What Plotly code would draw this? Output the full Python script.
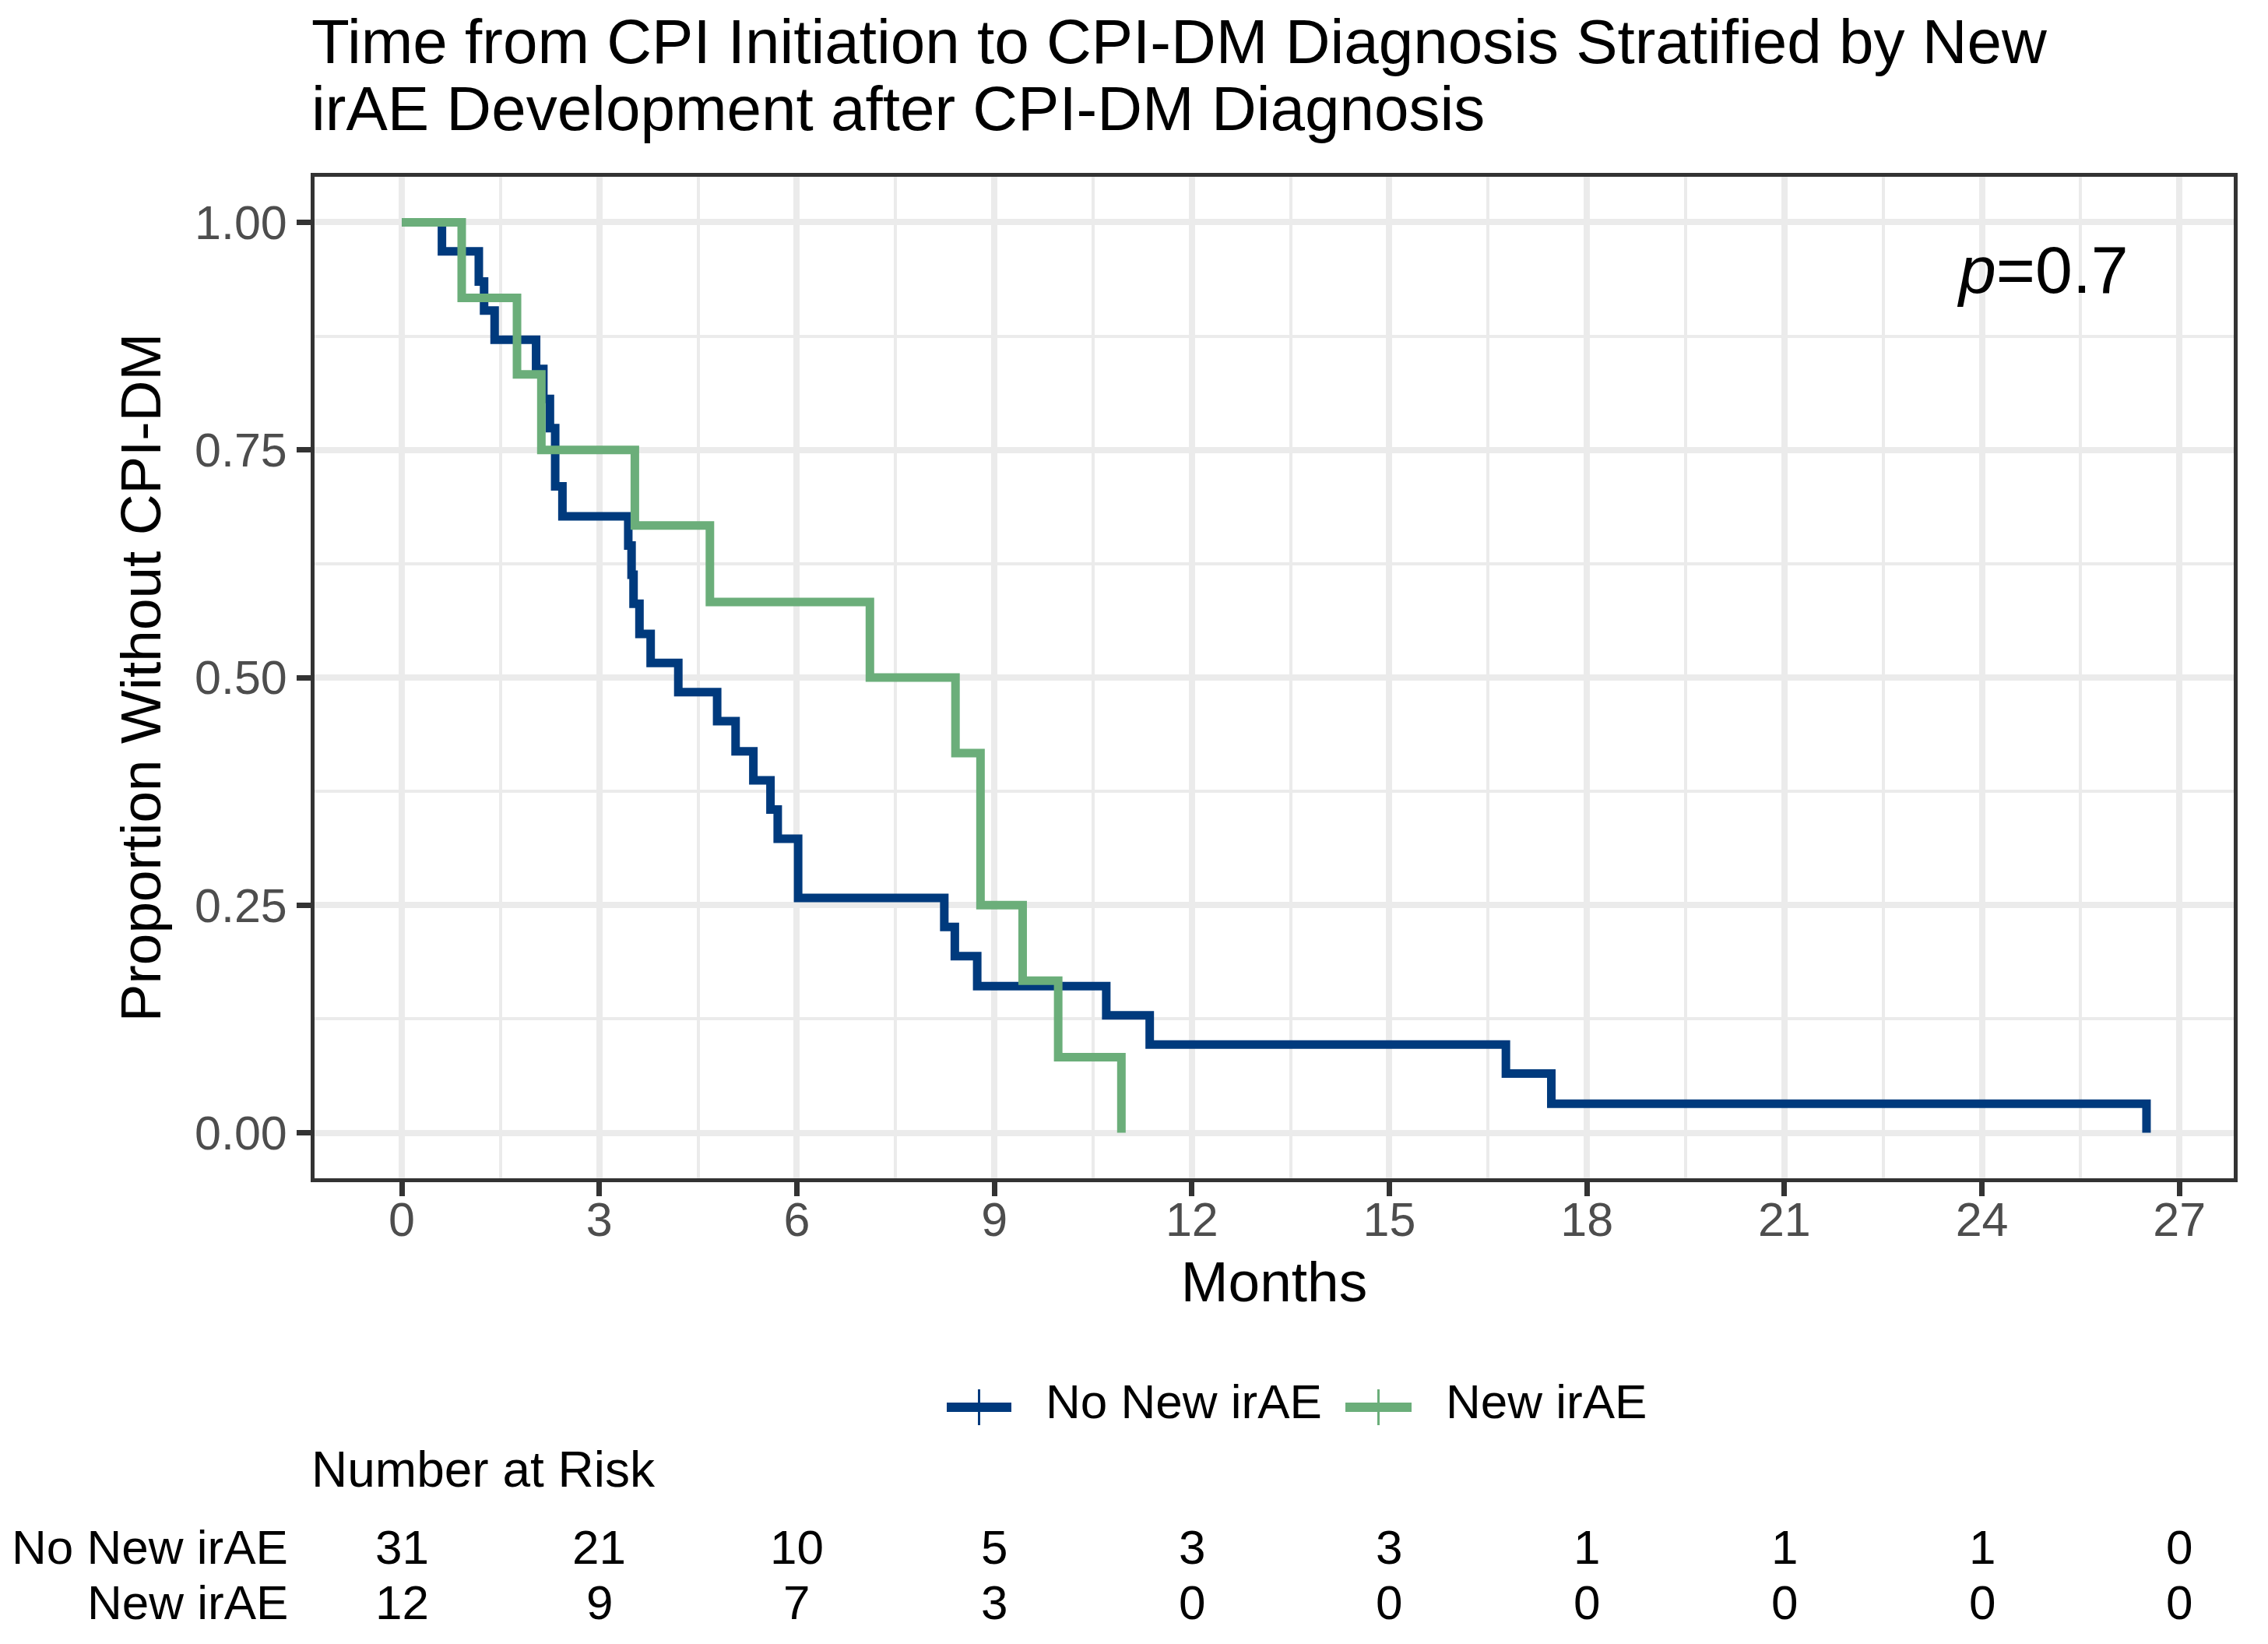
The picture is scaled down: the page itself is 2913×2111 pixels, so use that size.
import plotly.graph_objects as go

# ---- data ----
group_names = ["No New irAE", "New irAE"]

no_new_times = [0, 0.61, 1.17, 1.25, 1.41, 2.04, 2.15, 2.25, 2.33, 2.44,
                3.44, 3.49, 3.52, 3.61, 3.78, 4.20, 4.79, 5.07, 5.34, 5.60,
                5.71, 6.02, 8.24, 8.40, 8.74, 10.70, 11.36, 16.77, 17.46, 26.50]
no_new_surv = [1.000, 0.968, 0.935, 0.903, 0.871, 0.839, 0.806, 0.774, 0.710, 0.677,
               0.645, 0.613, 0.581, 0.548, 0.516, 0.484, 0.452, 0.419, 0.387, 0.355,
               0.323, 0.258, 0.226, 0.194, 0.161, 0.129, 0.097, 0.065, 0.032, 0.000]

new_times = [0, 0.91, 1.75, 2.12, 3.54, 4.68, 7.11, 8.41, 8.79, 9.43, 9.97, 10.93]
new_surv = [1.000, 0.917, 0.833, 0.750, 0.667, 0.583, 0.500, 0.417, 0.250, 0.167, 0.083, 0.000]

risk_times = [0, 3, 6, 9, 12, 15, 18, 21, 24, 27]
risk_no_new = [31, 21, 10, 5, 3, 3, 1, 1, 1, 0]
risk_new = [12, 9, 7, 3, 0, 0, 0, 0, 0, 0]

x_ticks = [0, 3, 6, 9, 12, 15, 18, 21, 24, 27]
y_ticks = [0.00, 0.25, 0.50, 0.75, 1.00]
p_text = "<i>p</i>=0.7"

title_lines = ["Time from CPI Initiation to CPI-DM Diagnosis Stratified by New",
               "irAE Development after CPI-DM Diagnosis"]

# ---- style ----
BLUE = "#003A7D"
GREEN = "#6BAE7A"
COLORS = [BLUE, GREEN]
FONT = "Liberation Sans"
W, H = 2913, 2111
ML, MR, MT, MB = 396, 52, 219, 606
PW = W - ML - MR
PH = H - MT - MB
DY = 8  # annotation box centre sits slightly below cap centre


def px_x(X):
    return (X - ML) / PW


def px_y(Y):
    return (H - MB - Y) / PH


fig = go.Figure()

for name, t, s, col in [(group_names[0], no_new_times, no_new_surv, BLUE),
                        (group_names[1], new_times, new_surv, GREEN)]:
    fig.add_trace(go.Scatter(x=t, y=s, mode="lines", line=dict(color=col, width=11, shape="hv"),
                             showlegend=False, name=name))

axis_common = dict(showline=True, linecolor="#333333", linewidth=5, mirror=True,
                   ticks="outside", ticklen=18, tickwidth=7, tickcolor="#333333",
                   gridcolor="#EBEBEB", gridwidth=8, zeroline=False,
                   tickfont=dict(family=FONT, size=61, color="#4D4D4D"))

fig.update_xaxes(range=[-1.325, 27.825], tickvals=x_ticks, ticklabelstandoff=-22,
                 minor=dict(dtick=1.5, tick0=0, showgrid=True, gridcolor="#EBEBEB", gridwidth=4, ticks=""),
                 title=dict(text="Months", font=dict(family=FONT, size=73, color="black"), standoff=22),
                 **axis_common)
fig.update_yaxes(range=[-0.05, 1.05], tickvals=y_ticks, tickformat=".2f",
                 minor=dict(dtick=0.125, tick0=0, showgrid=True, gridcolor="#EBEBEB", gridwidth=4, ticks=""),
                 title=dict(text="Proportion Without CPI-DM", font=dict(family=FONT, size=73, color="black"), standoff=21),
                 **axis_common)

annotations = []
shapes = []
# title lines
for line, yc in zip(title_lines, [53.5, 139.5]):
    annotations.append(dict(text=line, xref="paper", yref="paper", x=px_x(390), xanchor="left",
                            y=px_y(yc - DY), yanchor="middle", showarrow=False,
                            font=dict(family=FONT, size=80, color="black")))
# p-value
annotations.append(dict(text=p_text, xref="x", yref="y", x=26.25, y=0.948, xanchor="right", yanchor="middle",
                        showarrow=False, font=dict(family=FONT, size=86, color="black")))

# legend (drawn manually to match ggplot's key layout)
legend_items = [(group_names[0], BLUE, 1208, 1291, 1333), (group_names[1], GREEN, 1720, 1805, 1847)]
LEG_Y = 1799
for name, col, x0, x1, xt in legend_items:
    shapes.append(dict(type="line", xref="paper", yref="paper", x0=px_x(x0), x1=px_x(x1),
                       y0=px_y(LEG_Y), y1=px_y(LEG_Y), line=dict(color=col, width=12)))
    xm = (x0 + x1) / 2
    shapes.append(dict(type="line", xref="paper", yref="paper", x0=px_x(xm), x1=px_x(xm),
                       y0=px_y(LEG_Y - 23), y1=px_y(LEG_Y + 23), line=dict(color=col, width=3)))
    annotations.append(dict(text=name, xref="paper", yref="paper", x=px_x(xt), xanchor="left",
                            y=px_y(LEG_Y - DY), yanchor="middle", showarrow=False,
                            font=dict(family=FONT, size=62, color="black")))

# number at risk header
annotations.append(dict(text="Number at Risk", xref="paper", yref="paper", x=px_x(390), xanchor="left",
                        y=px_y(1887 - DY), yanchor="middle", showarrow=False,
                        font=dict(family=FONT, size=64, color="black")))
# risk table
for label, counts, yc in [(group_names[0], risk_no_new, 1987), (group_names[1], risk_new, 2057)]:
    yp = px_y(yc - DY)
    annotations.append(dict(text=label, xref="paper", yref="paper", x=px_x(364),
                            xanchor="right", y=yp, yanchor="middle", showarrow=False,
                            font=dict(family=FONT, size=62, color="black")))
    for t, c in zip(risk_times, counts):
        annotations.append(dict(text=str(c), xref="x", yref="paper", x=t, xanchor="center",
                                y=yp, yanchor="middle", showarrow=False,
                                font=dict(family=FONT, size=62, color="black")))

fig.update_layout(
    width=W, height=H,
    margin=dict(l=ML, r=MR, t=MT, b=MB, autoexpand=False),
    paper_bgcolor="white", plot_bgcolor="white",
    font=dict(family=FONT, color="black"),
    annotations=annotations,
    shapes=shapes,
    showlegend=False,
)

fig.write_html("out.html")
